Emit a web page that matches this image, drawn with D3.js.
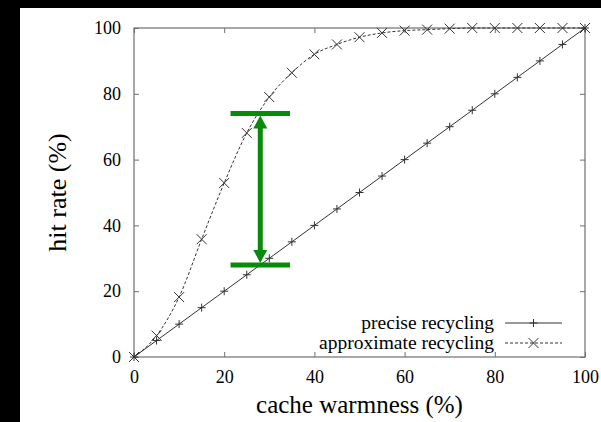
<!DOCTYPE html>
<html>
<head>
<meta charset="utf-8">
<script src="https://cdn.jsdelivr.net/npm/d3@7"></script>
<style>
  html, body { margin: 0; padding: 0; background: #fff; overflow: hidden; }
  svg { display: block; }
  svg text { font-family: "Liberation Serif", "DejaVu Serif", "Times New Roman", serif; }
</style>
</head>
<body>
<div id="chart"></div>
<script>
// cache warmness (%) on x
const warmness = [0, 5, 10, 15, 20, 25, 30, 35, 40, 45, 50, 55, 60, 65, 70, 75, 80, 85, 90, 95, 100];
const preciseHit = [0, 5, 10, 15, 20, 25, 30, 35, 40, 45, 50, 55, 60, 65, 70, 75, 80, 85, 90, 95, 100];
const approxHit = [0, 6.5, 18.2, 35.8, 52.9, 68.1, 79, 86.4, 92, 95, 97.2, 98.5, 99.2, 99.5, 99.8, 100, 100, 100, 100, 100, 100];
const tickValues = [0, 20, 40, 60, 80, 100];
const seriesNames = ["precise recycling", "approximate recycling"];
// green gap annotation (data units)
const gapX = [28];
const gapY = [28, 74];
const gapHalfWidth = [6.6];

const width = 601, height = 422;
const margin = { left: 134, right: 16, top: 28, bottom: 65 };

const svg = d3.select("#chart").append("svg")
  .attr("width", width)
  .attr("height", height);

// black border (left and top) around the screenshot
svg.append("rect").attr("width", width).attr("height", height).attr("fill", "#000");
svg.append("rect").attr("x", 20).attr("y", 8)
  .attr("width", width - 20).attr("height", height - 8).attr("fill", "#fff");

const x = d3.scaleLinear().domain([0, 100]).range([margin.left, width - margin.right]);
const y = d3.scaleLinear().domain([0, 100]).range([height - margin.bottom, margin.top]);

const frameColor = "#6e6e6e";

function styleAxis(g, showLabels) {
  g.select(".domain").remove();
  g.selectAll(".tick line").attr("stroke", frameColor);
  g.selectAll(".tick text")
    .attr("font-size", 18)
    .attr("fill", "#000");
  if (!showLabels) g.selectAll(".tick text").remove();
}

// axes with inward ticks, mirrored on top and right like gnuplot
svg.append("g")
  .attr("transform", `translate(0,${y(0)})`)
  .call(d3.axisBottom(x).tickValues(tickValues).tickSize(-5).tickPadding(13))
  .call(g => styleAxis(g, true));
svg.append("g")
  .attr("transform", `translate(0,${y(100)})`)
  .call(d3.axisTop(x).tickValues(tickValues).tickSize(-5))
  .call(g => styleAxis(g, false));
svg.append("g")
  .attr("transform", `translate(${x(0)},0)`)
  .call(d3.axisLeft(y).tickValues(tickValues).tickSize(-5).tickPadding(13))
  .call(g => styleAxis(g, true));
svg.append("g")
  .attr("transform", `translate(${x(100)},0)`)
  .call(d3.axisRight(y).tickValues(tickValues).tickSize(-5))
  .call(g => styleAxis(g, false));
svg.selectAll("g").attr("font-family", null);

// frame
svg.append("rect")
  .attr("x", x(0)).attr("y", y(100))
  .attr("width", x(100) - x(0)).attr("height", y(0) - y(100))
  .attr("fill", "none").attr("stroke", frameColor).attr("stroke-width", 1.2);

// axis titles
svg.append("text")
  .attr("x", (x(0) + x(100)) / 2).attr("y", 413)
  .attr("text-anchor", "middle")
  .attr("font-size", 25)
  .text("cache warmness (%)");
svg.append("text")
  .attr("transform", `translate(66,${(y(0) + y(100)) / 2}) rotate(-90)`)
  .attr("text-anchor", "middle")
  .attr("font-size", 26)
  .text("hit rate (%)");

const lineColor = "#333";

const precise = warmness.map((w, i) => ({ x: w, y: preciseHit[i] }));
const approx = warmness.map((w, i) => ({ x: w, y: approxHit[i] }));

// precise recycling: solid with +
svg.append("path")
  .datum(precise)
  .attr("fill", "none").attr("stroke", lineColor).attr("stroke-width", 1)
  .attr("d", d3.line().x(d => x(d.x)).y(d => y(d.y)));

// approximate recycling: dashed with x
svg.append("path")
  .datum(approx)
  .attr("fill", "none").attr("stroke", lineColor).attr("stroke-width", 1)
  .attr("stroke-dasharray", "3,2")
  .attr("d", d3.line().curve(d3.curveMonotoneX).x(d => x(d.x)).y(d => y(d.y)));

function plus(g, cx, cy, r) {
  g.append("path")
    .attr("d", `M${cx - r},${cy}H${cx + r}M${cx},${cy - r}V${cy + r}`)
    .attr("stroke", lineColor).attr("stroke-width", 1).attr("fill", "none");
}
function cross(g, cx, cy, r) {
  g.append("path")
    .attr("d", `M${cx - r},${cy - r}L${cx + r},${cy + r}M${cx - r},${cy + r}L${cx + r},${cy - r}`)
    .attr("stroke", lineColor).attr("stroke-width", 1).attr("fill", "none");
}

const markers = svg.append("g");
precise.forEach(d => plus(markers, x(d.x), y(d.y), 4));
approx.forEach(d => cross(markers, x(d.x), y(d.y), 5));

// legend
const legend = svg.append("g");
seriesNames.forEach((name, i) => {
  const ly = 323 + i * 20;
  legend.append("text")
    .attr("x", 494).attr("y", ly).attr("dy", "0.32em")
    .attr("text-anchor", "end")
    .attr("font-size", 19.5)
    .text(name);
  legend.append("line")
    .attr("x1", 505).attr("x2", 562).attr("y1", ly).attr("y2", ly)
    .attr("stroke", lineColor).attr("stroke-width", 1)
    .attr("stroke-dasharray", i === 1 ? "3,2" : null);
  if (i === 0) plus(legend, 533.5, ly, 4);
  else cross(legend, 533.5, ly, 5);
});

// green gap annotation
const green = "#0a8a0a";
const ann = svg.append("g");
gapY.forEach(v => {
  ann.append("line")
    .attr("x1", x(gapX[0] - gapHalfWidth[0])).attr("x2", x(gapX[0] + gapHalfWidth[0]))
    .attr("y1", y(v)).attr("y2", y(v))
    .attr("stroke", green).attr("stroke-width", 5);
});
const ax = x(gapX[0]);
const yLo = y(gapY[0]), yHi = y(gapY[1]);
const headLen = 15, headHalf = 7;
ann.append("line")
  .attr("x1", ax).attr("x2", ax)
  .attr("y1", yHi + headLen - 1).attr("y2", yLo - headLen + 1)
  .attr("stroke", green).attr("stroke-width", 5);
ann.append("path")
  .attr("d", `M${ax},${yHi + 2}L${ax - headHalf},${yHi + headLen}L${ax + headHalf},${yHi + headLen}Z`)
  .attr("fill", green);
ann.append("path")
  .attr("d", `M${ax},${yLo - 2}L${ax - headHalf},${yLo - headLen}L${ax + headHalf},${yLo - headLen}Z`)
  .attr("fill", green);
</script>
</body>
</html>
